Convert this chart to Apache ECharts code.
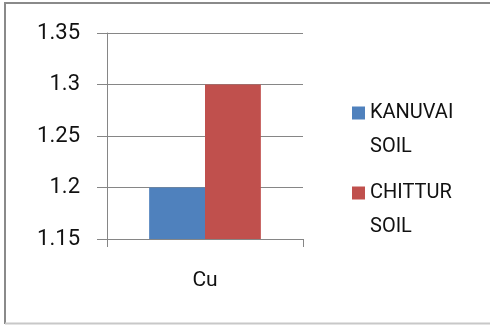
<!DOCTYPE html>
<html>
<head>
<meta charset="utf-8">
<script src="https://cdn.jsdelivr.net/npm/echarts@6/dist/echarts.min.js"></script>
<style>
  html, body { margin: 0; padding: 0; background: #fff; }
  #chart { width: 490px; height: 325px; }
</style>
</head>
<body>
<div id="chart"></div>
<script>
// Copper content of two soil samples
const categories = ['Cu'];
const kanuvaiSoil = [1.2];
const chitturSoil = [1.3];
const seriesNames = ['KANUVAI\nSOIL', 'CHITTUR\nSOIL'];

const FONT = "'Roboto', 'Noto Sans', sans-serif";
const TEXT = '#111111';
const GRID_LINE = '#868686';

const chart = echarts.init(document.getElementById('chart'), null, { renderer: 'canvas' });

chart.setOption({
  animation: false,
  backgroundColor: '#ffffff',
  textStyle: { fontFamily: FONT },
  grid: { left: 107, right: 187, top: 33, bottom: 86, containLabel: false },
  xAxis: {
    type: 'category',
    data: categories,
    axisLine: { lineStyle: { color: GRID_LINE, width: 1 } },
    axisTick: { show: true, length: 8, alignWithLabel: false, lineStyle: { color: GRID_LINE } },
    axisLabel: { color: TEXT, fontSize: 21, fontFamily: FONT, margin: 31 }
  },
  yAxis: {
    type: 'value',
    min: 1.15,
    max: 1.35,
    interval: 0.05,
    axisLine: { show: true, lineStyle: { color: GRID_LINE, width: 1 } },
    axisTick: { show: true, length: 10, lineStyle: { color: GRID_LINE } },
    splitLine: { show: true, lineStyle: { color: GRID_LINE, width: 1 } },
    axisLabel: { color: TEXT, fontSize: 22, fontFamily: FONT, margin: 27 }
  },
  legend: {
    orient: 'vertical',
    left: 347,
    top: 57,
    itemWidth: 13,
    itemHeight: 13,
    itemGap: -22,
    icon: 'rect',
    selectedMode: false,
    // a blank leading line keeps the swatch level with the first text line
    formatter: name => ' \n' + name,
    textStyle: {
      color: TEXT,
      fontSize: 20,
      fontFamily: FONT,
      lineHeight: 34
    },
    data: seriesNames
  },
  series: [
    {
      name: seriesNames[0],
      type: 'bar',
      data: kanuvaiSoil,
      barGap: '0%',
      barCategoryGap: '43%',
      itemStyle: { color: '#4F81BD' }
    },
    {
      name: seriesNames[1],
      type: 'bar',
      data: chitturSoil,
      barGap: '0%',
      barCategoryGap: '43%',
      itemStyle: { color: '#C0504D' }
    }
  ],
  graphic: [
    { type: 'line', shape: { x1: 5, y1: 3, x2: 490, y2: 3 }, style: { stroke: '#8a8a8a', lineWidth: 2 }, silent: true },
    { type: 'line', shape: { x1: 5, y1: 2, x2: 5, y2: 324 }, style: { stroke: '#8a8a8a', lineWidth: 2 }, silent: true },
    { type: 'line', shape: { x1: 5, y1: 323.5, x2: 490, y2: 323.5 }, style: { stroke: '#c8c8c8', lineWidth: 2 }, silent: true }
  ]
});
</script>
</body>
</html>
